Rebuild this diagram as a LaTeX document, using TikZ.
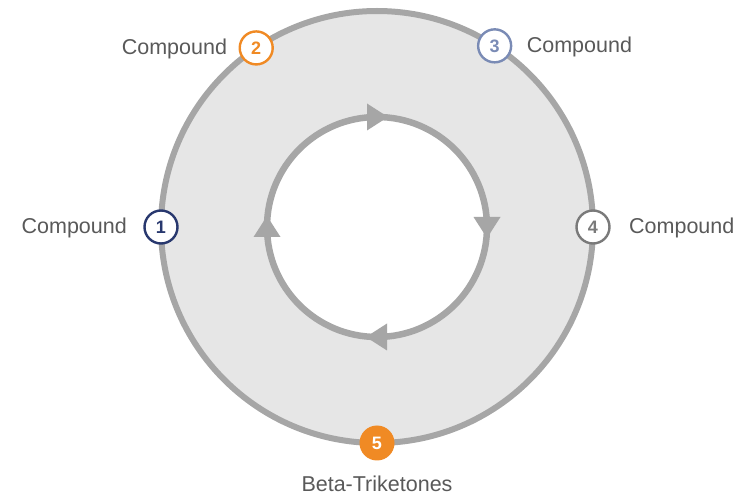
\documentclass[tikz,border=0pt]{standalone}
\usepackage{fontspec}
\setmainfont{Liberation Sans}
\usetikzlibrary{calc}
\definecolor{ringgray}{HTML}{A6A6A6}
\definecolor{ringfill}{HTML}{E6E6E6}
\definecolor{labelgray}{HTML}{595959}
\definecolor{corange}{HTML}{F08A24}
\definecolor{cnavy}{HTML}{28386E}
\definecolor{cslate}{HTML}{7A8BB5}
\definecolor{cgray}{HTML}{7A7A7A}
\begin{document}
\begin{tikzpicture}[x=1pt,y=1pt,
  marker/.style={circle, draw=#1, fill=white, line width=2.4pt, text=#1,
    minimum size=33pt, inner sep=0pt, font=\fontsize{18}{21}\selectfont\bfseries},
  filledmarker/.style={circle, fill=#1, text=white,
    minimum size=35pt, inner sep=0pt, font=\fontsize{18}{21}\selectfont\bfseries},
  lbl/.style={text=labelgray, inner sep=0pt, font=\fontsize{21.5}{25}\selectfont},
  ring/.style={draw=ringgray, line width=6pt},
  flowtip/.style={fill=ringgray}]
\useasboundingbox (0,0) rectangle (748,496);
\coordinate (c) at (377,269);

% outer ring band and inner cycle
\filldraw[ring, fill=ringfill] (c) circle[radius=216pt];
\filldraw[ring, fill=white, line width=6.5pt] (c) circle[radius=110pt];

% clockwise arrowheads on the inner cycle
\foreach \a in {90,0,270,180}{
  \fill[flowtip] ($(c)+(\a:110pt)+(\a-90:11pt)$)
    -- ($(c)+(\a:110pt)+(\a-90:-10pt)+(\a:13.5pt)$)
    -- ($(c)+(\a:110pt)+(\a-90:-10pt)+(\a:-13.5pt)$) -- cycle;
}

% stage markers on the outer ring
\node[marker=cnavy]  (m1) at ($(c)+(180:216pt)$) {1};
\node[marker=corange] (m2) at ($(c)+(124:216pt)$) {2};
\node[marker=cslate] (m3) at ($(c)+(57:216pt)$) {3};
\node[marker=cgray]  (m4) at ($(c)+(0:216pt)$) {4};
\node[filledmarker=corange] (m5) at ($(c)+(270:216pt)$) {5};

% labels
\node[lbl, anchor=base east] (l1) at ($(m1.center)+(-34,-6.5)$) {Compound};
\node[lbl, anchor=base east] (l2) at ($(m2.center)+(-29,-6.5)$) {Compound};
\node[lbl, anchor=base west] (l3) at ($(m3.center)+(32,-6.5)$) {Compound};
\node[lbl, anchor=base west] (l4) at ($(m4.center)+(36,-6.5)$) {Compound};
\node[lbl, anchor=base] (l5) at ($(m5.center)+(0,-48.5)$) {Beta-Triketones};
\end{tikzpicture}
\end{document}
